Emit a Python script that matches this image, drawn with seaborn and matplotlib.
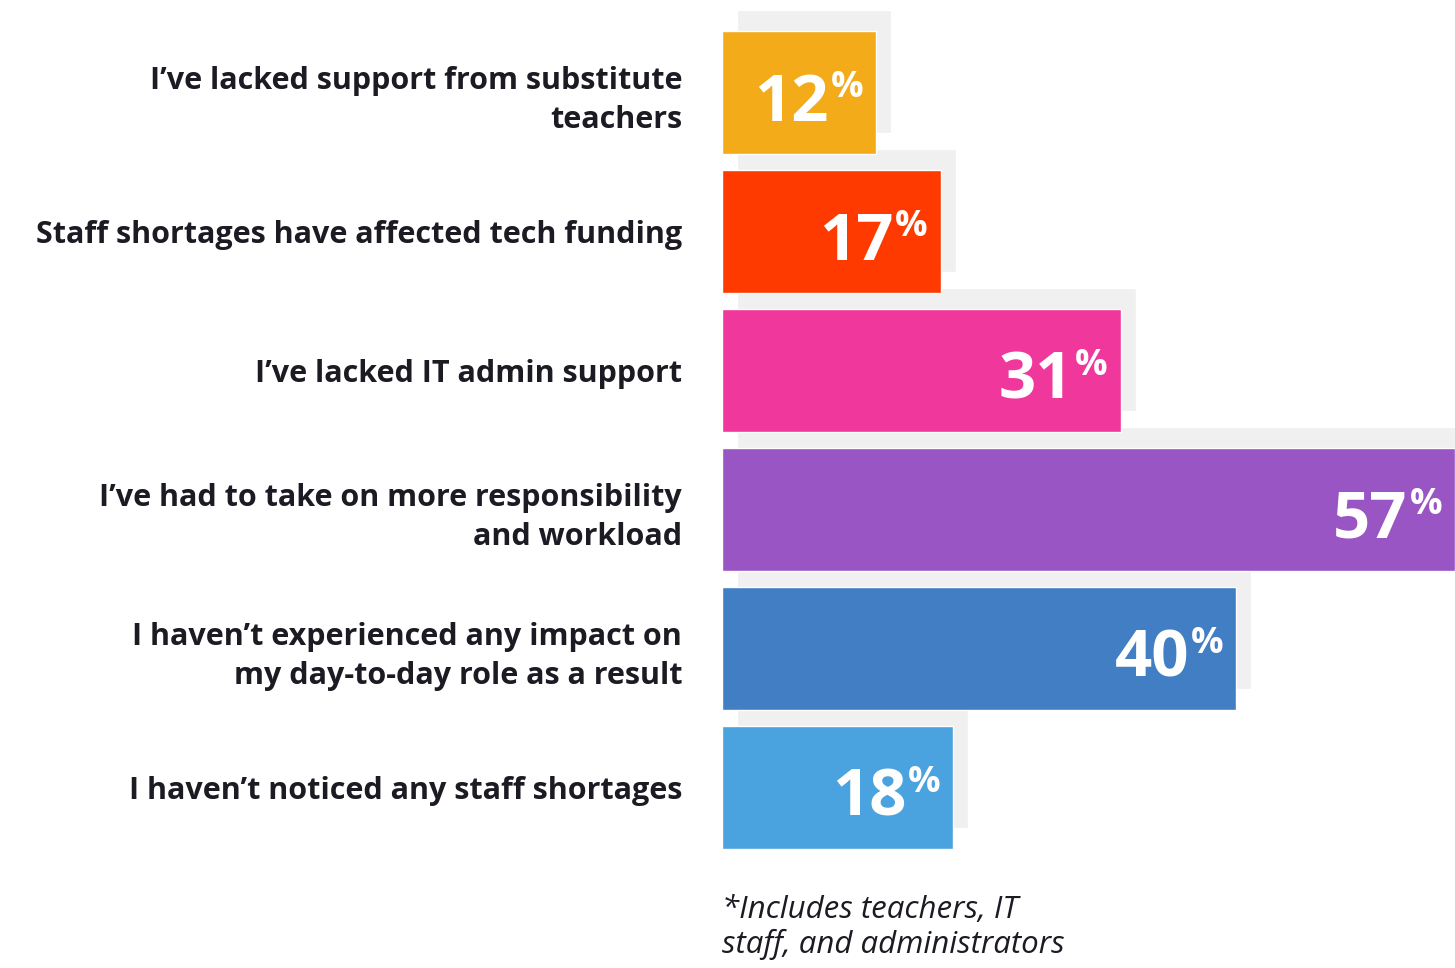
import matplotlib
matplotlib.use("Agg")
import matplotlib.pyplot as plt
import matplotlib.transforms as mtransforms
from matplotlib import font_manager
import pandas as pd
import seaborn as sns

# Survey responses
categories = [
    "I\u2019ve lacked support from substitute\nteachers",
    "Staff shortages have affected tech funding",
    "I\u2019ve lacked IT admin support",
    "I\u2019ve had to take on more responsibility\nand workload",
    "I haven\u2019t experienced any impact on\nmy day-to-day role as a result",
    "I haven\u2019t noticed any staff shortages",
]
values = [12, 17, 31, 57, 40, 18]
colors = ["#F4AB19", "#FF3A00", "#F0379B", "#9955C3", "#417EC4", "#4AA2DF"]
footnote = "*Includes teachers, IT\nstaff, and administrators"

SHADOW = "#F0F0F0"
TEXT = "#1C1A22"

sns.set_theme(style="white")

# Pick a sans family that has a real bold face available
family = "DejaVu Sans"
for cand in ["Noto Sans", "Open Sans", "Lato", "Roboto"]:
    try:
        path = font_manager.findfont(
            font_manager.FontProperties(family=cand, weight="bold"),
            fallback_to_default=False)
    except Exception:
        continue
    if "bold" in path.lower():
        family = cand
        break
plt.rcParams["font.family"] = [family, "DejaVu Sans"]

df = pd.DataFrame({"label": categories, "value": values})

fig = plt.figure(figsize=(14.55, 9.68), dpi=100)
ax = fig.add_axes([722 / 1455, 1 - 857 / 968, 733 / 1455, 834 / 968])

# Offset grey backdrop behind each bar
sns.barplot(data=df, x="value", y="label", color=SHADOW, saturation=1,
            width=0.885, errorbar=None, ax=ax)
shift = mtransforms.ScaledTranslation(15 / 100, 21 / 100, fig.dpi_scale_trans)
for p in list(ax.patches):
    p.set_transform(ax.transData + shift)
    p.set_clip_on(False)
    p.set_zorder(1)

# Coloured bars
n_shadow = len(ax.patches)
sns.barplot(data=df, x="value", y="label", hue="label", palette=colors,
            saturation=1, width=0.885, errorbar=None, legend=False, ax=ax)
for p in ax.patches[n_shadow:]:
    p.set_zorder(2)

ax.set_xlim(0, 57)
ax.set_ylim(5.5, -0.5)
ax.set_xlabel("")
ax.set_ylabel("")
ax.set_xticks([])
ax.set_yticks(range(len(categories)))
ax.set_yticklabels(categories, fontsize=22, fontweight="bold", color=TEXT,
                   linespacing=1.38)
ax.tick_params(axis="y", length=0, pad=28.8)
for s in ax.spines.values():
    s.set_visible(False)
ax.set_facecolor("none")

# Value labels with raised percent sign
for i, v in enumerate(values):
    num = ax.annotate(str(v), xy=(v, i), xytext=(-34, -8.5),
                      textcoords="offset points", ha="right", va="center",
                      fontsize=47, fontweight="bold", color="white", zorder=5)
    ax.annotate("%", xy=(1, 1), xycoords=num, xytext=(1.2, 1),
                textcoords="offset points", ha="left", va="top",
                fontsize=26, fontweight="bold", color="white", zorder=5)

fig.text(722 / 1455, 1 - 895 / 968, footnote, ha="left", va="top",
         fontsize=22.5, fontstyle="italic", color=TEXT, linespacing=1.15)

fig.savefig("out.png", dpi=100, facecolor="white")
